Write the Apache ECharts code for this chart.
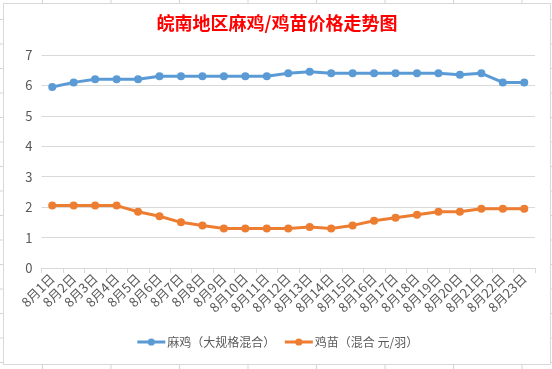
<!DOCTYPE html>
<html>
<head>
<meta charset="utf-8">
<script src="https://cdn.jsdelivr.net/npm/echarts@6/dist/echarts.min.js"></script>
<style>
html,body{margin:0;padding:0;width:552px;height:369px;overflow:hidden;background:#fff;}
body{
  background-image:
    linear-gradient(to right, #d4d4d4 1px, transparent 1px),
    linear-gradient(to bottom, #d4d4d4 1px, transparent 1px);
  background-size: 68.5px 24.5px;
  background-position: 42px 19px;
}
#chart{position:absolute;left:3px;top:3px;width:546px;height:360px;border:1px solid #d9d9d9;background:#fff;}
</style>
</head>
<body>
<div id="chart"></div>
<script>
const categories = ['8月1日','8月2日','8月3日','8月4日','8月5日','8月6日','8月7日','8月8日','8月9日','8月10日','8月11日','8月12日','8月13日','8月14日','8月15日','8月16日','8月17日','8月18日','8月19日','8月20日','8月21日','8月22日','8月23日'];
const majiValues = [5.95,6.1,6.2,6.2,6.2,6.3,6.3,6.3,6.3,6.3,6.3,6.4,6.45,6.4,6.4,6.4,6.4,6.4,6.4,6.35,6.4,6.1,6.1];
const jimiaoValues = [2.05,2.05,2.05,2.05,1.85,1.7,1.5,1.4,1.3,1.3,1.3,1.3,1.35,1.3,1.4,1.55,1.65,1.75,1.85,1.85,1.95,1.95,1.95];
const seriesNames = ['麻鸡（大规格混合）','鸡苗（混合 元/羽）'];
const titleText = '皖南地区麻鸡/鸡苗价格走势图';

const chart = echarts.init(document.getElementById('chart'));
const font = '"Noto Sans CJK SC", "Microsoft YaHei", sans-serif';
chart.setOption({
  animation: false,
  textStyle: { fontFamily: font },
  title: {
    text: titleText,
    left: 'center',
    top: 10,
    padding: 0,
    textStyle: { color: '#ff0000', fontSize: 18, fontWeight: 'bold', fontFamily: font }
  },
  legend: {
    bottom: 11,
    left: 'center',
    itemWidth: 28,
    itemHeight: 9,
    itemGap: 8,
    lineStyle: { width: 3 },
    textStyle: { color: '#595959', fontSize: 12, fontFamily: font, padding: [0,0,0,-3] },
    data: seriesNames
  },
  grid: { left: 37.5, right: 15, top: 51, bottom: 96, containLabel: false },
  xAxis: {
    type: 'category',
    data: categories,
    boundaryGap: true,
    axisLine: { lineStyle: { color: '#d9d9d9', width: 1 } },
    axisTick: { show: true, length: 5, lineStyle: { color: '#d9d9d9' } },
    axisLabel: { rotate: 45, interval: 0, color: '#595959', fontSize: 13, margin: 8, fontFamily: font }
  },
  yAxis: {
    type: 'value',
    min: 0, max: 7, interval: 1,
    axisLine: { show: false },
    axisTick: { show: false },
    axisLabel: { color: '#595959', fontSize: 13, margin: 9, fontFamily: font },
    splitLine: { lineStyle: { color: '#d9d9d9', width: 1 } }
  },
  series: [
    {
      name: seriesNames[0], type: 'line', data: majiValues,
      symbol: 'circle', symbolSize: 8,
      lineStyle: { color: '#5b9bd5', width: 3 },
      itemStyle: { color: '#5b9bd5' }
    },
    {
      name: seriesNames[1], type: 'line', data: jimiaoValues,
      symbol: 'circle', symbolSize: 8,
      lineStyle: { color: '#ed7d31', width: 3 },
      itemStyle: { color: '#ed7d31' }
    }
  ]
});
</script>
</body>
</html>
